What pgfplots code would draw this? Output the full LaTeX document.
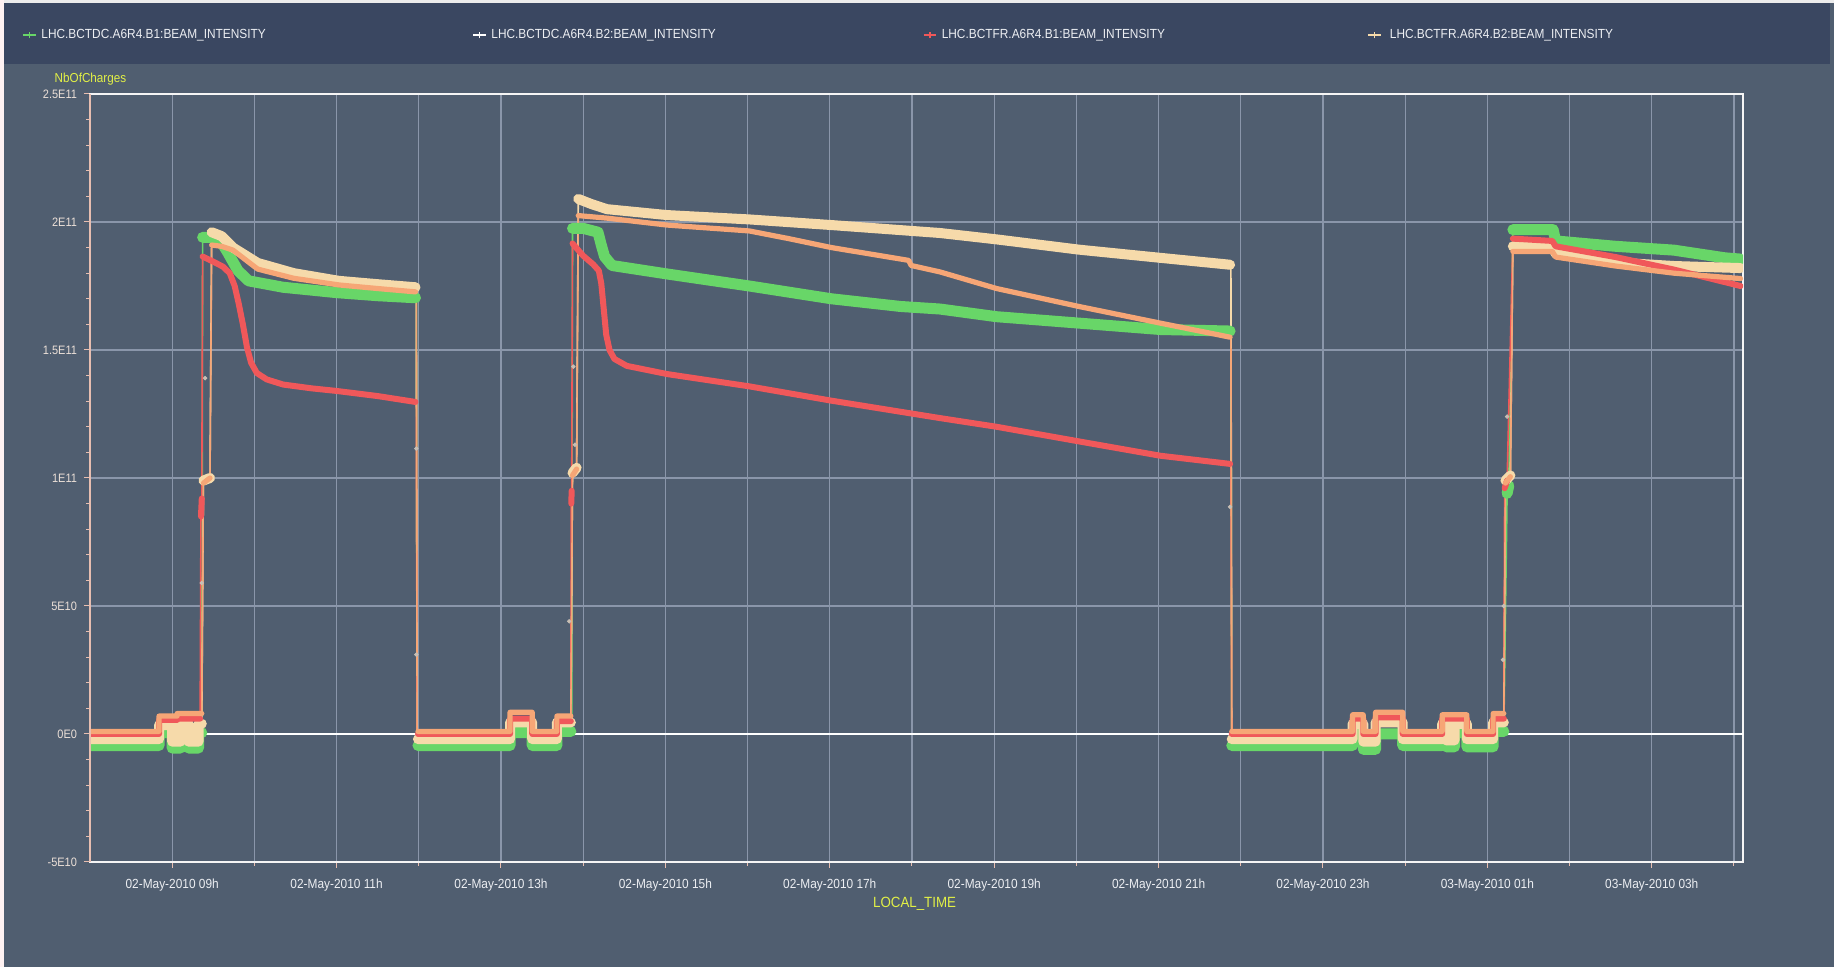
\documentclass[border=0pt]{standalone}
\usepackage{fontspec}
\setmainfont{Liberation Sans}[FakeStretch=0.9]
\usepackage{pgfplots}
\pgfplotsset{compat=1.18}
\definecolor{bgc}{RGB}{80,94,112}
\definecolor{barc}{RGB}{58,71,97}
\definecolor{gridc}{RGB}{138,150,170}
\definecolor{cG}{RGB}{104,214,104}
\definecolor{cC}{RGB}{246,218,170}
\definecolor{cR}{RGB}{240,88,90}
\definecolor{cO}{RGB}{246,166,118}
\definecolor{ylw}{RGB}{226,240,70}
\definecolor{txtc}{RGB}{236,238,242}
\definecolor{ytc}{RGB}{236,224,216}
\definecolor{pinkax}{RGB}{232,190,176}
\definecolor{dotc}{RGB}{200,190,180}
\begin{document}
\begin{tikzpicture}[x=1pt,y=1pt]
\useasboundingbox (0pt,0pt) rectangle (917pt,483.5pt);
\fill[bgc] (0pt,0pt) rectangle (917pt,483.5pt);
\fill[barc] (0pt,451.5pt) rectangle (915pt,482pt);
\fill[white!85!gray] (0pt,482pt) rectangle (917pt,483.5pt);
\fill[white!80!pink] (0pt,0pt) rectangle (1.8pt,483.5pt);
\begin{axis}[
  at={(45pt,52.5pt)}, anchor=south west, scale only axis,
  width=826.5pt, height=384pt,
  xmin=8, xmax=28.11, ymin=-5, ymax=25,
  xtick={9,11,...,27},
  xticklabels={02-May-2010 09h,02-May-2010 11h,02-May-2010 13h,02-May-2010 15h,02-May-2010 17h,02-May-2010 19h,02-May-2010 21h,02-May-2010 23h,03-May-2010 01h,03-May-2010 03h},
  minor xtick={10,12,...,28},
  ytick={-5,0,...,25},
  yticklabels={-5E10,0E0,5E10,1E11,1.5E11,2E11,2.5E11},
  minor y tick num=4,
  xtick pos=lower, ytick pos=left,
  xmajorgrids, xminorgrids, ymajorgrids,
  grid style={gridc, line width=0.55pt},
  minor grid style={gridc, line width=0.55pt},
  tick align=outside, major tick length=3pt, minor tick length=2pt,
  tick style={pinkax, line width=0.5pt},
  axis line style={white!92!gray, line width=0.9pt},
  xticklabel style={font=\fontsize{6.6}{7}\selectfont, text=txtc, yshift=-2pt},
  yticklabel style={font=\fontsize{6.1}{7}\selectfont, text=ytc},
  unbounded coords=jump,
  clip mode=individual,
]
\draw[white, line width=0.9pt] (axis cs:8,0) -- (axis cs:28.11,0);
% thin vertical transitions
\addplot[cG, line width=0.8pt] coordinates {(9.36,0.05)(9.37,19.4) (9.37,nan) (11.97,17.04)(11.98,-0.45) (11.98,nan) (13.86,0.1)(13.87,19.75) (13.87,nan) (21.88,15.74)(21.89,-0.45) (21.89,nan) (25.2,0.1)(25.24,9.4) (25.25,nan) (25.26,9.7)(25.31,19.7)};
\addplot[cC, line width=0.8pt] coordinates {(9.36,0.4)(9.38,9.9) (9.39,nan) (9.46,10.0)(9.48,19.6) (9.48,nan) (11.97,17.45)(11.98,-0.2) (11.98,nan) (13.85,0.45)(13.87,10.2) (13.88,nan) (13.92,10.4)(13.94,20.9) (13.94,nan) (21.88,18.33)(21.89,-0.2) (21.89,nan) (25.2,0.45)(25.22,9.9) (25.23,nan) (25.28,10.1)(25.31,19.05)};
\addplot[cR, line width=0.8pt] coordinates {(9.34,0.6)(9.35,8.5) (9.355,nan) (9.36,9.2)(9.37,18.65) (9.37,nan) (11.97,12.97)(11.98,0.0) (11.98,nan) (13.85,0.5)(13.855,9.0) (13.857,nan) (13.86,9.5)(13.87,19.16) (13.87,nan) (21.88,10.55)(21.89,0.0) (21.89,nan) (25.2,0.6)(25.21,9.6) (25.22,nan) (25.24,9.9)(25.31,19.35)};
\addplot[cO, line width=0.8pt] coordinates {(9.36,0.8)(9.38,9.8) (9.39,nan) (9.46,10.0)(9.48,19.1) (9.48,nan) (11.97,17.27)(11.98,0.1) (11.98,nan) (13.85,0.7)(13.87,10.1) (13.88,nan) (13.92,10.35)(13.94,20.25) (13.94,nan) (21.88,15.5)(21.89,0.1) (21.89,nan) (25.2,0.8)(25.22,9.8) (25.23,nan) (25.28,10.05)(25.31,18.85)};
% scattered transition samples
\addplot[only marks, mark=*, mark size=0.9pt, dotc] coordinates {(9.40,13.9)(9.36,5.9)(11.97,11.15)(11.97,3.1)(13.88,14.35)(13.9,11.3)(13.83,4.4)(21.87,8.87)(25.24,12.4)(25.2,5.0)(25.19,2.9)};
% B1 BCTDC (green)
\addplot[cG, line width=5.5pt, line cap=round, line join=round] coordinates {
(8.0,-0.45)(8.84,-0.45)(8.84,0.05)(9.0,0.05)(9.0,-0.55)(9.1,-0.55)(9.1,0.05)(9.2,0.05)(9.2,-0.55)(9.32,-0.55)(9.32,0.05)(9.36,0.05)
(9.365,nan)
(9.37,19.4)(9.5,19.4)(9.6,19.2)(9.67,18.84)(9.8,18.1)(9.93,17.7)(10.35,17.45)(11.0,17.24)(11.5,17.12)(11.96,17.04)
(11.975,nan)
(11.99,-0.45)(13.11,-0.45)(13.11,0.05)(13.38,0.05)(13.38,-0.45)(13.68,-0.45)(13.68,0.1)(13.85,0.1)
(13.86,nan)
(13.87,19.75)(14.0,19.75)(14.18,19.6)(14.22,19.1)(14.26,18.65)(14.35,18.3)(15.02,17.97)(16.02,17.5)(17.02,17.0)(17.86,16.7)(18.34,16.6)(19.03,16.3)(20.03,16.05)(21.02,15.8)(21.87,15.74)
(21.88,nan)
(21.89,-0.45)(23.36,-0.45)(23.36,0.1)(23.49,0.1)(23.49,-0.6)(23.64,-0.6)(23.64,0.0)(23.97,0.0)(23.97,-0.45)(24.45,-0.45)(24.45,0.05)(24.5,0.05)(24.5,-0.5)(24.6,-0.5)(24.6,0.05)(24.75,0.05)(24.75,-0.5)(25.07,-0.5)(25.07,0.1)(25.2,0.1)
(25.22,nan)
(25.24,9.4)(25.26,9.7)
(25.28,nan)
(25.31,19.7)(25.8,19.7)(25.83,19.26)(26.56,19.05)(27.27,18.9)(27.89,18.6)(28.08,18.55)};
% B2 BCTDC (cream)
\addplot[cC, line width=5pt, line cap=round, line join=round] coordinates {
(8.0,-0.2)(8.84,-0.2)(8.84,0.35)(9.0,0.35)(9.0,-0.3)(9.1,-0.3)(9.1,0.4)(9.2,0.4)(9.2,-0.3)(9.32,-0.3)(9.32,0.4)(9.36,0.4)
(9.37,nan)
(9.38,9.9)(9.46,10.0)
(9.47,nan)
(9.48,19.6)(9.6,19.45)(9.74,19.0)(10.04,18.4)(10.48,18.0)(11.03,17.7)(11.5,17.57)(11.96,17.45)
(11.975,nan)
(11.99,-0.2)(13.11,-0.2)(13.11,0.45)(13.38,0.45)(13.38,-0.2)(13.68,-0.2)(13.68,0.45)(13.85,0.45)
(13.86,nan)
(13.87,10.2)(13.92,10.4)
(13.93,nan)
(13.94,20.9)(14.1,20.7)(14.29,20.5)(15.02,20.27)(16.02,20.1)(17.02,19.88)(18.34,19.57)(19.03,19.32)(20.03,18.92)(21.02,18.6)(21.87,18.33)
(21.88,nan)
(21.89,-0.2)(23.36,-0.2)(23.36,0.4)(23.49,0.4)(23.49,-0.3)(23.64,-0.3)(23.64,0.45)(23.97,0.45)(23.97,-0.2)(24.45,-0.2)(24.45,0.4)(24.5,0.4)(24.5,-0.25)(24.6,-0.25)(24.6,0.4)(24.75,0.4)(24.75,-0.2)(25.07,-0.2)(25.07,0.45)(25.2,0.45)
(25.21,nan)
(25.22,9.9)(25.28,10.1)
(25.3,nan)
(25.31,19.05)(25.79,19.05)(25.83,18.77)(26.56,18.42)(27.27,18.28)(28.08,18.2)};
% B1 BCTFR (red)
\addplot[cR, line width=3pt, line cap=round, line join=round] coordinates {
(8.0,0.0)(8.84,0.0)(8.84,0.55)(9.06,0.55)(9.06,0.6)(9.34,0.6)
(9.345,nan)
(9.35,8.5)(9.36,9.2)
(9.365,nan)
(9.37,18.65)(9.5,18.45)(9.62,18.25)(9.70,18.0)(9.76,17.5)(9.81,16.8)(9.86,16.0)(9.91,15.1)(9.96,14.5)(10.03,14.1)(10.15,13.85)(10.35,13.65)(10.7,13.5)(11.0,13.4)(11.5,13.2)(11.96,12.97)
(11.975,nan)
(11.99,0.0)(13.11,0.0)(13.11,0.6)(13.38,0.6)(13.38,0.0)(13.68,0.0)(13.68,0.5)(13.85,0.5)
(13.852,nan)
(13.855,9.0)(13.86,9.5)
(13.865,nan)
(13.87,19.16)(14.0,18.68)(14.12,18.35)(14.19,18.1)(14.22,17.6)(14.25,16.6)(14.28,15.6)(14.32,15.0)(14.38,14.65)(14.53,14.38)(15.02,14.06)(16.02,13.58)(17.02,13.02)(18.34,12.34)(19.03,12.0)(20.03,11.43)(21.02,10.87)(21.87,10.55)
(21.88,nan)
(21.89,0.0)(23.36,0.0)(23.36,0.6)(23.49,0.6)(23.49,0.0)(23.64,0.0)(23.64,0.65)(23.97,0.65)(23.97,0.0)(24.45,0.0)(24.45,0.6)(24.75,0.6)(24.75,0.0)(25.07,0.0)(25.07,0.6)(25.2,0.6)
(25.205,nan)
(25.21,9.6)(25.24,9.9)
(25.27,nan)
(25.31,19.35)(25.79,19.26)(25.83,19.05)(26.56,18.63)(27.27,18.14)(28.08,17.5)};
% B2 BCTFR (orange)
\addplot[cO, line width=2.6pt, line cap=round, line join=round] coordinates {
(8.0,0.1)(8.84,0.1)(8.84,0.7)(9.06,0.7)(9.06,0.8)(9.36,0.8)
(9.37,nan)
(9.38,9.8)(9.46,10.0)
(9.47,nan)
(9.48,19.1)(9.6,19.05)(9.74,18.9)(10.04,18.16)(10.48,17.8)(11.03,17.54)(11.5,17.4)(11.96,17.27)
(11.975,nan)
(11.99,0.1)(13.11,0.1)(13.11,0.85)(13.38,0.85)(13.38,0.1)(13.68,0.1)(13.68,0.7)(13.85,0.7)
(13.86,nan)
(13.87,10.1)(13.92,10.35)
(13.93,nan)
(13.94,20.25)(14.29,20.15)(15.02,19.88)(16.02,19.65)(16.5,19.35)(17.02,19.0)(17.96,18.5)(17.99,18.3)(18.34,18.05)(19.03,17.4)(20.03,16.7)(21.02,16.05)(21.87,15.5)
(21.88,nan)
(21.89,0.1)(23.36,0.1)(23.36,0.75)(23.49,0.75)(23.49,0.1)(23.64,0.1)(23.64,0.85)(23.97,0.85)(23.97,0.1)(24.45,0.1)(24.45,0.75)(24.75,0.75)(24.75,0.1)(25.07,0.1)(25.07,0.8)(25.2,0.8)
(25.21,nan)
(25.22,9.8)(25.28,10.05)
(25.3,nan)
(25.31,18.85)(25.79,18.85)(25.83,18.63)(26.56,18.28)(27.27,18.0)(28.08,17.79)};
\draw[pinkax, line width=0.9pt] (rel axis cs:0,0) -- (rel axis cs:0,1);
\end{axis}
% axis titles
\node[text=ylw, font=\fontsize{6.5}{7}\selectfont] at (45.25pt,443.75pt) {NbOfCharges};
\node[text=ylw, font=\fontsize{7.4}{8}\selectfont] at (457.3pt,31.5pt) {LOCAL\_TIME};
% legend
\foreach \mx/\tx/\col/\lab in {14.6/20.5/cG/{LHC.BCTDC.A6R4.B1:BEAM\_INTENSITY}, 239.8/245.5/white/{LHC.BCTDC.A6R4.B2:BEAM\_INTENSITY}, 465/470.7/cR/{LHC.BCTFR.A6R4.B1:BEAM\_INTENSITY}, 687.1/694.75/cC/{LHC.BCTFR.A6R4.B2:BEAM\_INTENSITY}} {
  \draw[\col, line width=0.6pt] (\mx pt-3.2pt,466pt) -- (\mx pt+3.2pt,466pt);
  \draw[\col, line width=0.6pt] (\mx pt,464.3pt) -- (\mx pt,467.7pt);
  \node[anchor=west, inner sep=0pt, text=txtc, font=\fontsize{6.6}{8}\selectfont] at (\tx pt,466pt) {\lab};
}
\end{tikzpicture}
\end{document}
